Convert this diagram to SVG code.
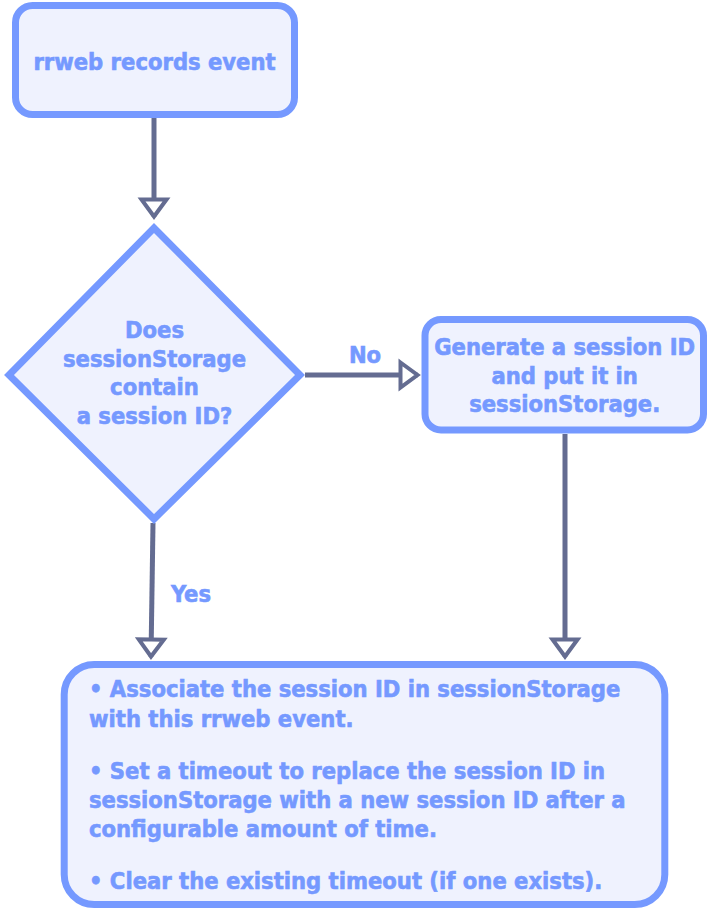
<svg xmlns="http://www.w3.org/2000/svg" width="708" height="918" viewBox="0 0 708 918">
  <style>
    .box { fill: #eff2fe; stroke: #7599ff; stroke-width: 7; }
    .lbl { font-family: "DejaVu Sans Condensed", "DejaVu Sans", sans-serif; font-stretch: condensed; font-weight: bold; font-size: 23.5px; fill: #7599ff; stroke: #7599ff; stroke-width: 0.6; }
    .mid { text-anchor: middle; }
    .edge { fill: none; stroke: #646c91; stroke-width: 5; }
  </style>
  <defs>
    <marker id="arrow" viewBox="0 0 28 28" markerWidth="28" markerHeight="28" markerUnits="userSpaceOnUse" refX="21" refY="14" orient="auto" overflow="visible">
      <path d="M4,1.5 L21,14 L4,26.5 Z" fill="#ffffff" stroke="#646c91" stroke-width="4"/>
    </marker>
  </defs>
  <rect width="708" height="918" fill="#ffffff"/>

  <g id="connectors">
    <path class="edge" d="M154,118 L154,216.5" marker-end="url(#arrow)"/>
    <path class="edge" d="M305,375 L417.5,375" marker-end="url(#arrow)"/>
    <text class="lbl mid" x="365" y="363">No</text>
    <path class="edge" d="M153,523 L151,656.5" marker-end="url(#arrow)"/>
    <text class="lbl mid" x="191" y="601.5">Yes</text>
    <path class="edge" d="M565,434 L565,656.5" marker-end="url(#arrow)"/>
  </g>

  <g id="node-record">
    <rect class="box" x="15.5" y="5.5" width="279" height="109" rx="17"/>
    <text class="lbl mid" x="154.5" y="70">rrweb records event</text>
  </g>

  <g id="node-decision">
    <polygon class="box" points="154,228 300,375 154,519 9,375"/>
    <text class="lbl mid" x="154.5" y="338">Does</text>
    <text class="lbl mid" x="154.5" y="366.5">sessionStorage</text>
    <text class="lbl mid" x="154.5" y="395">contain</text>
    <text class="lbl mid" x="154.5" y="423.5">a session ID?</text>
  </g>

  <g id="node-generate">
    <rect class="box" x="425" y="319.5" width="278.5" height="110.5" rx="16"/>
    <text class="lbl mid" x="564.7" y="355">Generate a session ID</text>
    <text class="lbl mid" x="564.7" y="383.7">and put it in</text>
    <text class="lbl mid" x="564.7" y="412.4">sessionStorage.</text>
  </g>

  <g id="node-actions">
    <rect class="box" x="64.2" y="664.5" width="600.6" height="240" rx="30"/>
    <text class="lbl" x="89" y="697">• Associate the session ID in sessionStorage</text>
    <text class="lbl" x="89" y="726.5">with this rrweb event.</text>
    <text class="lbl" x="89" y="779">• Set a timeout to replace the session ID in</text>
    <text class="lbl" x="89" y="808">sessionStorage with a new session ID after a</text>
    <text class="lbl" x="89" y="837">configurable amount of time.</text>
    <text class="lbl" x="89" y="889">• Clear the existing timeout (if one exists).</text>
  </g>
</svg>
